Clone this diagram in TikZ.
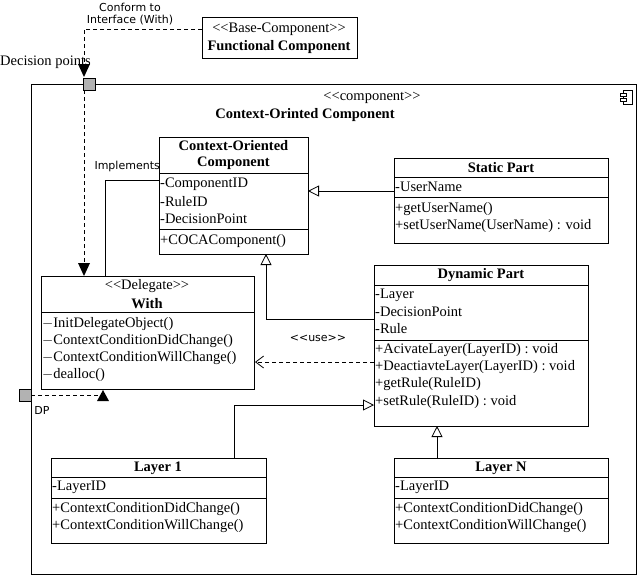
\documentclass[tikz,border=0pt]{standalone}
\usepackage{fontspec}
\setmainfont{Liberation Serif}
\newfontfamily\lbl{DejaVu Sans}
\usetikzlibrary{arrows.meta}
\newcommand{\stl}{{<}{<}}
\newcommand{\stg}{{>}{>}}
\begin{document}
\begin{tikzpicture}[x=1pt,y=-1pt,
  box/.style={draw,line width=0.8pt,inner sep=0pt,anchor=north west},
  txt/.style={inner sep=0pt,anchor=west,font=\fontsize{14.5}{15}\selectfont},
  ttl/.style={inner sep=0pt,font=\fontsize{14.5}{16}\selectfont\bfseries},
  st/.style={inner sep=0pt,font=\fontsize{14.5}{15}\selectfont},
  lb/.style={inner sep=0pt,font=\lbl\fontsize{11}{12.5}\selectfont},
  gen/.style={draw,line width=0.8pt,-{Triangle[open,length=11pt,width=11pt]}},
  dep/.style={draw,line width=0.8pt,dashed,dash pattern=on 4pt off 3pt},
  port/.style={draw,fill=gray!60,minimum size=12pt,inner sep=0pt}]
\useasboundingbox (0,0) rectangle (640,576);
% big component
\node[box,minimum width=605pt,minimum height=490pt] (comp) at (31,84) {};
\node[st] (cst) at (372,98) {\stl component\stg};
\node[ttl] (cnm) at (305,115) {Context-Orinted Component};
\draw (623,90) rectangle (632,104); \draw[fill=white] (620,93) rectangle (626,96); \draw[fill=white] (620,98) rectangle (626,101);
% functional
\node[box,minimum width=155pt,minimum height=41pt] (fc) at (202,17) {};
\node[st] at (279,29) {\stl Base-Component\stg};
\node[ttl] at (279,47) {Functional Component};
% CO component
\node[box,minimum width=149pt,minimum height=117pt] (co) at (159,137) {};
\draw (159,173) -- (308,173) (159,229) -- (308,229);
\node[ttl,align=center] at (233.5,155) {Context-Oriented\\Component};
\node[txt] at (160,184) {-ComponentID};
\node[txt] at (160,202) {-RuleID};
\node[txt] at (160,219) {-DecisionPoint};
\node[txt] at (160,241) {+COCAComponent()};
% Static part
\node[box,minimum width=214pt,minimum height=85pt] (sp) at (394,158) {};
\draw (394,177) -- (608,177) (394,197) -- (608,197);
\node[ttl] at (501,168) {Static Part};
\node[txt] at (395,187) {-UserName};
\node[txt] at (395,209) {+getUserName()};
\node[txt] at (395,226) {+setUserName(UserName) : void};
% With
\node[box,minimum width=213pt,minimum height=113pt] (w) at (41,276) {};
\draw (41,312) -- (254,312);
\node[st] at (147,286) {\stl Delegate\stg};
\node[ttl] at (147,304) {With};
\node[txt] at (42,324) {$-$InitDelegateObject()};
\node[txt] at (42,341) {$-$ContextConditionDidChange()};
\node[txt] at (42,358) {$-$ContextConditionWillChange()};
\node[txt] at (42,375) {$-$dealloc()};
% Dynamic
\node[box,minimum width=214pt,minimum height=161pt] (dp) at (374,265) {};
\draw (374,285) -- (588,285) (374,340) -- (588,340);
\node[ttl] at (481,275) {Dynamic Part};
\node[txt] at (375,295) {-Layer};
\node[txt] at (375,312) {-DecisionPoint};
\node[txt] at (375,329) {-Rule};
\node[txt] at (375,350) {+AcivateLayer(LayerID) : void};
\node[txt] at (375,367) {+DeactiavteLayer(LayerID) : void};
\node[txt] at (375,384) {+getRule(RuleID)};
\node[txt] at (375,402) {+setRule(RuleID) : void};
% Layer 1 & N
\node[box,minimum width=215pt,minimum height=85pt] (l1) at (51,458) {};
\draw (51,477) -- (266,477) (51,498) -- (266,498);
\node[ttl] at (158,468) {Layer 1};
\node[txt] at (52,487) {-LayerID};
\node[txt] at (52,509) {+ContextConditionDidChange()};
\node[txt] at (52,526) {+ContextConditionWillChange()};
\node[box,minimum width=214pt,minimum height=85pt] (ln) at (394,458) {};
\draw (394,477) -- (608,477) (394,498) -- (608,498);
\node[ttl] at (501,468) {Layer N};
\node[txt] at (395,487) {-LayerID};
\node[txt] at (395,509) {+ContextConditionDidChange()};
\node[txt] at (395,526) {+ContextConditionWillChange()};
% ports
\node[port] (p1) at (89,84) {};
\node[port] (p2) at (25,395) {};
\node[inner sep=0pt,anchor=west,font=\fontsize{14.5}{15}\selectfont] at (0,62) {Decision points};
\node[lb] at (42,410) {DP};
\node[lb,align=center] at (130,14) {Conform to\\Interface (With)};
\node[lb,anchor=east] at (160,166) {Implements};
\node[lb] at (318,338) {\stl use\stg};
% connectors
\draw[dep] (fc.west |- 0,29) -- (84,29) -- (84,72);
\fill (78,64) -- (90,64) -- (84,77) -- cycle;
\draw[dep] (84,90) -- (84,272);
\fill (78,263) -- (90,263) -- (84,276) -- cycle;
\draw[dep] (p2.east) -- (100,395);
\fill (97,401) -- (109,401) -- (103,390) -- cycle;
\draw[line width=0.8pt] (105,276) -- (105,180) -- (159,180);
\draw[gen] (sp.west |- 0,191) -- (308,191);
\draw[gen] (dp.west |- 0,319) -- (266,319) -- (266,254);
\draw[dep,-{Straight Barb[length=8pt,width=12pt]}] (dp.west |- 0,362) -- (255,362);
\draw[gen] (234,458) -- (234,405) -- (374,405);
\draw[gen] (437,458) -- (437,426);
\end{tikzpicture}
\end{document}
